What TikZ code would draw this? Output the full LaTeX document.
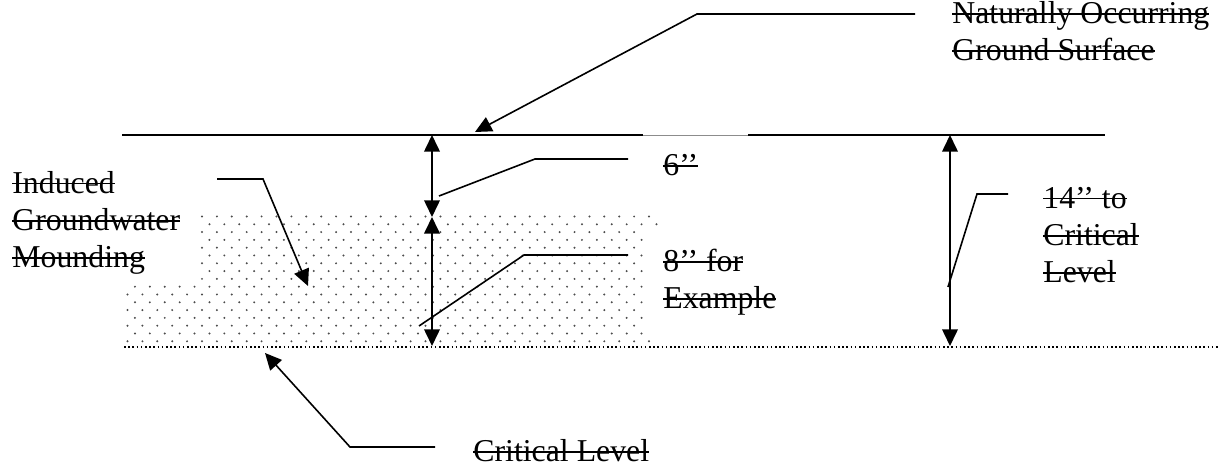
\documentclass[tikz,border=0pt]{standalone}
\usepackage{fontspec}
\setmainfont{Liberation Serif}
\usetikzlibrary{arrows.meta}
\newsavebox\strkbox
\newcommand\strk[1]{\sbox\strkbox{#1}\rlap{\rule[0.62ex]{\wd\strkbox}{0.9pt}}\usebox\strkbox}

\begin{document}
\begin{tikzpicture}[x=0.5pt, y=-0.5pt,
  lbl/.style={font=\fontsize{15.9}{18.65}\selectfont, inner sep=0pt, align=left, anchor=base west},
  leader/.style={line width=0.8pt},
  pointer/.style={line width=0.8pt, -{Triangle[length=8.3pt,width=7.8pt]}},
  dimline/.style={line width=0.8pt, {Triangle[length=8.3pt,width=7.8pt]}-{Triangle[length=8.3pt,width=7.8pt]}}]
\useasboundingbox (0,0) rectangle (1228,470);

% stippled mound
\begin{scope}
\clip (200,212) -- (662,212) -- (662,347) -- (124,347) -- (124,282) -- (200,282) -- cycle;
\foreach \r in {0,...,16} {
  \pgfmathsetmacro\yy{216.5+7.8*\r}
  \pgfmathsetmacro\xo{mod(\r,2)*7.45}
  \foreach \c in {0,...,36}
    \fill[black!70] (127.5+\xo+14.9*\c,\yy) circle (0.55pt);
}
\end{scope}
\fill[white] (644,227) rectangle (700,337);

% ground surface and critical level
\draw[line width=0.75pt] (122,135) -- (643,135);
\draw[black!45, line width=0.4pt] (643,135) -- (748,135);
\draw[line width=0.75pt] (748,135) -- (1105,135);
\draw[line width=0.75pt, dash pattern=on 0.75pt off 1.35pt] (124,347) -- (1218,347);

% labels (anchored at the baseline of their last line)
\node[lbl] (natural) at (952,61) {\strk{Naturally Occurring}\\\strk{Ground Surface}};
\node[lbl] (induced) at (12,268) {\strk{Induced}\\\strk{Groundwater}\\\strk{Mounding}};
\node[lbl] (six) at (663,176) {\strk{6’’}};
\node[lbl] (eight) at (663,309) {\strk{8’’ for}\\\strk{Example}};
\node[lbl] (fourteen) at (1043,283) {\strk{14’’ to}\\\strk{Critical}\\\strk{Level}};
\node[lbl] (critical) at (473,462) {\strk{Critical Level}};

% dimension arrows
\coordinate (top-l) at (432,135);
\coordinate (mid-l) at (432,217);
\coordinate (bot-l) at (432,346);
\coordinate (top-r) at (950,135);
\coordinate (bot-r) at (950,346);
\draw[dimline] (top-l) -- (mid-l);
\draw[dimline] (mid-l) -- (bot-l);
\draw[dimline] (top-r) -- (bot-r);

% leaders
\coordinate (nat-a) at (915,14);
\coordinate (nat-b) at (697,14);
\coordinate (nat-c) at (475,132);
\draw[pointer] (nat-a) -- (nat-b) -- (nat-c);
\coordinate (ind-a) at (217,179);
\coordinate (ind-b) at (263,179);
\coordinate (ind-c) at (308,286);
\draw[pointer] (ind-a) -- (ind-b) -- (ind-c);
\coordinate (crit-a) at (435,447);
\coordinate (crit-b) at (350,447);
\coordinate (crit-c) at (265,353);
\draw[pointer] (crit-a) -- (crit-b) -- (crit-c);
\coordinate (six-a) at (628,159);
\coordinate (six-b) at (535,159);
\coordinate (six-c) at (439,196);
\draw[leader] (six-a) -- (six-b) -- (six-c);
\coordinate (eight-a) at (628,255);
\coordinate (eight-b) at (524,255);
\coordinate (eight-c) at (419,326);
\draw[leader] (eight-a) -- (eight-b) -- (eight-c);
\coordinate (fourteen-a) at (1008,194);
\coordinate (fourteen-b) at (977,194);
\coordinate (fourteen-c) at (948,287);
\draw[leader] (fourteen-a) -- (fourteen-b) -- (fourteen-c);
\end{tikzpicture}
\end{document}
